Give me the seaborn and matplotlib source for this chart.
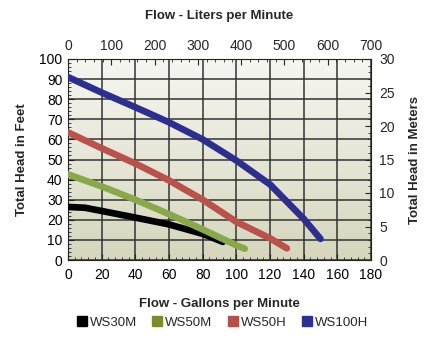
import numpy as np
import pandas as pd
import matplotlib
matplotlib.use("Agg")
import matplotlib.pyplot as plt
from matplotlib.lines import Line2D
from matplotlib.colors import LinearSegmentedColormap
from matplotlib.ticker import MultipleLocator
import seaborn as sns

# ---- data ----
ws30m_gpm = [0, 10, 20, 40, 60, 80, 92]
ws30m_ft = [26.4, 26.0, 24.4, 21.1, 17.7, 13.0, 9.0]
ws50m_gpm = [0, 20, 40, 60, 80, 100, 105]
ws50m_ft = [42.6, 36.6, 30.0, 22.8, 15.2, 7.3, 5.6]
ws50h_gpm = [0, 20, 40, 60, 80, 100, 120, 130]
ws50h_ft = [63.5, 55.6, 48.0, 39.6, 30.0, 19.0, 10.8, 5.8]
ws100h_gpm = [0, 20, 40, 60, 80, 100, 120, 140, 150]
ws100h_ft = [91.0, 83.3, 76.0, 68.5, 60.0, 49.5, 37.6, 20.5, 10.5]

series = ["WS30M", "WS50M", "WS50H", "WS100H"]
line_colors = ["#000000", "#8aa84a", "#b8524b", "#2c2f8e"]
legend_colors = ["#000000", "#7a8a2c", "#b5504a", "#2e3192"]

gpm_ticks = list(range(0, 181, 20))
ft_ticks = list(range(0, 101, 10))
lpm_ticks = list(range(0, 701, 100))
m_ticks = list(range(0, 31, 5))

frames = []
for name, xs, ys in zip(series,
                        [ws30m_gpm, ws50m_gpm, ws50h_gpm, ws100h_gpm],
                        [ws30m_ft, ws50m_ft, ws50h_ft, ws100h_ft]):
    frames.append(pd.DataFrame({"gpm": xs, "ft": ys, "model": name}))
df = pd.concat(frames, ignore_index=True)

sns.set_style("white")
plt.rcParams["font.family"] = ["Liberation Sans", "DejaVu Sans"]

fig = plt.figure(figsize=(4.35, 3.54), dpi=100)
ax = fig.add_axes([68/435, 1-260/354, 303/435, 201/354])

# gradient background: darker olive-grey at bottom, near white at top
cmap = LinearSegmentedColormap.from_list("bg", ["#d5d6bc", "#f6f6f1"])
grad = np.linspace(0, 1, 256).reshape(-1, 1)
ax.imshow(grad, cmap=cmap, aspect="auto", extent=[0, 180, 0, 100],
          origin="lower", zorder=0)

sns.lineplot(data=df, x="gpm", y="ft", hue="model", hue_order=series,
             palette=dict(zip(series, line_colors)), linewidth=4.8,
             sort=False, legend=False, ax=ax, zorder=3,
             solid_capstyle="round")

ax.set_xlim(0, 180)
ax.set_ylim(0, 100)
ax.set_xticks(gpm_ticks)
ax.set_yticks(ft_ticks)
ax.xaxis.set_minor_locator(MultipleLocator(4))
ax.yaxis.set_minor_locator(MultipleLocator(2))
ax.grid(True, which="major", color="#333333", linewidth=1.1, zorder=1)
ax.set_axisbelow(True)
for sp in ax.spines.values():
    sp.set_color("#222222")
    sp.set_linewidth(0.8)
ax.tick_params(which="major", direction="in", length=4, width=0.8,
               labelsize=10, pad=4, colors="#222222", labelcolor="black")
ax.tick_params(axis="x", which="major", pad=6)
ax.tick_params(which="minor", direction="in", length=2, width=0.6,
               colors="#222222")
ax.set_xlabel("Flow - Gallons per Minute", fontsize=9.5, fontweight="bold",
              labelpad=11)
ax.set_ylabel("Total Head in Feet", fontsize=9.5, fontweight="bold",
              labelpad=8)

# top axis (liters per minute)
axt = ax.twiny()
axt.set_xlim(0, 700)
axt.set_xticks(lpm_ticks)
axt.xaxis.set_minor_locator(MultipleLocator(20))
axt.tick_params(which="major", direction="in", length=4, width=0.8,
                labelsize=10, pad=4)
axt.tick_params(which="minor", direction="in", length=2, width=0.6)
axt.set_xlabel("Flow - Liters per Minute", fontsize=9.5, fontweight="bold",
               labelpad=15)

# right axis (meters)
axr = ax.twinx()
axr.set_ylim(0, 30)
axr.set_yticks(m_ticks)
axr.yaxis.set_minor_locator(MultipleLocator(1))
axr.tick_params(which="major", direction="in", length=4, width=0.8,
                labelsize=10, pad=6)
axr.tick_params(which="minor", direction="in", length=2, width=0.6)
axr.set_ylabel("Total Head in Meters", fontsize=9.5, fontweight="bold",
               labelpad=10)
for a in (axt, axr):
    for sp in a.spines.values():
        sp.set_visible(False)

handles = [Line2D([], [], linestyle="none", marker="s", markersize=7,
                  markerfacecolor=c, markeredgecolor=c) for c in legend_colors]
fig.legend(handles, series, loc="center", bbox_to_anchor=(0.51, 0.088),
           ncol=4, frameon=False, fontsize=9.5, handletextpad=0.15,
           columnspacing=1.1, handlelength=0.9)

fig.savefig("out.png", dpi=100)
